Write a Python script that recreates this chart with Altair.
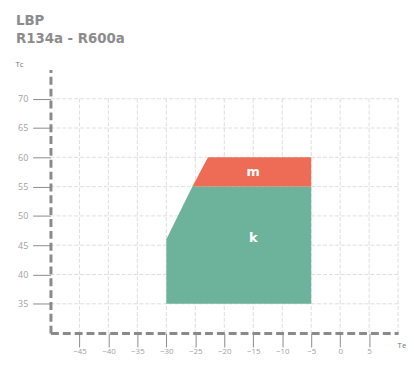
import altair as alt
import pandas as pd

# polygon "k" (evaporating temp Te vs condensing temp Tc)
k_te = [-30, -25.5, -5]
k_top = [46, 55, 55]
k_bottom = [35, 35, 35]
# polygon "m"
m_te = [-25.5, -22.8, -5]
m_top = [55, 60, 60]
m_bottom = [55, 55, 55]
# region labels
labels = ["m", "k"]
label_te = [-15, -15]
label_tc = [57.5, 46.3]
# ticks / grid
x_ticks = [-45, -40, -35, -30, -25, -20, -15, -10, -5, 0, 5]
y_ticks = [35, 40, 45, 50, 55, 60, 65, 70]
grid_x = [-45, -40, -35, -30, -25, -20, -15, -10, -5, 0, 5, 10]
grid_y = [35, 40, 45, 50, 55, 60, 65, 70]
title_lines = ["LBP", "R134a - R600a"]

FONT = "Open Sans"
TFONT = "DejaVu Sans"
GREEN = "#6db39b"
RED = "#ee6b55"
W, H = 352, 267

xs = alt.Scale(domain=[-50, 10], nice=False, zero=False)
ys = alt.Scale(domain=[30, 75], nice=False, zero=False)

x_axis = alt.Axis(values=x_ticks, grid=False, domainDash=[8, 4], domainWidth=3,
                  domainColor="#8a8a8a", tickColor="#8a8a8a", tickSize=14, tickWidth=1,
                  labelColor="#a0a0a0", labelFontSize=8, labelFont=FONT, labelPadding=1,
                  title="Te", titleFont=FONT, titleFontSize=8, titleFontWeight="normal",
                  titleColor="#777777", titleX=W - 1, titleY=15, titleAlign="left",
                  titleBaseline="alphabetic", zindex=2)
y_axis = alt.Axis(values=y_ticks, grid=False, domainDash=[8, 4], domainWidth=3,
                  domainColor="#8a8a8a", tickColor="#8a8a8a", tickSize=18, tickWidth=1,
                  labelColor="#a0a0a0", labelFontSize=9, labelFont=FONT, labelPadding=5,
                  title="Tc", titleFont=FONT, titleFontSize=8, titleFontWeight="normal",
                  titleColor="#777777", titleAngle=0, titleX=-36, titleY=-3,
                  titleAlign="left", titleBaseline="alphabetic", zindex=2)


def X(field):
    return alt.X(field, type="quantitative", scale=xs, axis=x_axis)


def Y(field):
    return alt.Y(field, type="quantitative", scale=ys, axis=y_axis)


vgrid = pd.DataFrame({"x": grid_x, "y1": [70] * len(grid_x), "y2": [30] * len(grid_x)})
hgrid = pd.DataFrame({"y": grid_y, "x1": [-50] * len(grid_y), "x2": [10] * len(grid_y)})

vg = alt.Chart(vgrid).mark_rule(color="#dddddd", strokeDash=[4, 2], strokeWidth=1).encode(
    x=X("x"), y=Y("y1"), y2="y2:Q",
)
hg = alt.Chart(hgrid).mark_rule(color="#dddddd", strokeDash=[4, 2], strokeWidth=1).encode(
    y=Y("y"), x=X("x1"), x2="x2:Q",
)

kdf = pd.DataFrame({"te": k_te, "top": k_top, "bot": k_bottom})
mdf = pd.DataFrame({"te": m_te, "top": m_top, "bot": m_bottom})

k_area = alt.Chart(kdf).mark_area(color=GREEN, opacity=1).encode(
    x=X("te"), y=Y("top"), y2="bot:Q",
)
m_area = alt.Chart(mdf).mark_area(color=RED, opacity=1).encode(
    x=X("te"), y=Y("top"), y2="bot:Q",
)

ldf = pd.DataFrame({"lab": labels, "te": label_te, "tc": label_tc})
lab = alt.Chart(ldf).mark_text(color="white", fontSize=13, fontWeight="bold", font=TFONT).encode(
    x=X("te"), y=Y("tc"), text="lab:N",
)

tdf = pd.DataFrame({"t": title_lines})
t1 = alt.Chart(tdf).transform_filter(alt.datum.t == title_lines[0]).mark_text(
    color="#8c8c8c", fontSize=13.5, fontWeight="bold", font=TFONT, align="left",
    baseline="alphabetic").encode(x=alt.value(-35), y=alt.value(-45), text="t:N")
t2 = alt.Chart(tdf).transform_filter(alt.datum.t == title_lines[1]).mark_text(
    color="#8c8c8c", fontSize=13.5, fontWeight="bold", font=TFONT, align="left",
    baseline="alphabetic").encode(x=alt.value(-35), y=alt.value(-27), text="t:N")

chart = alt.layer(vg, hg, k_area, m_area, lab, t1, t2).properties(
    width=W, height=H,
    autosize=alt.AutoSizeParams(type="none"),
    padding={"left": 43, "top": 60, "right": 8, "bottom": 22},
).configure_view(stroke=None)

chart.save("out.html", embed_options={"renderer": "svg", "actions": False})
